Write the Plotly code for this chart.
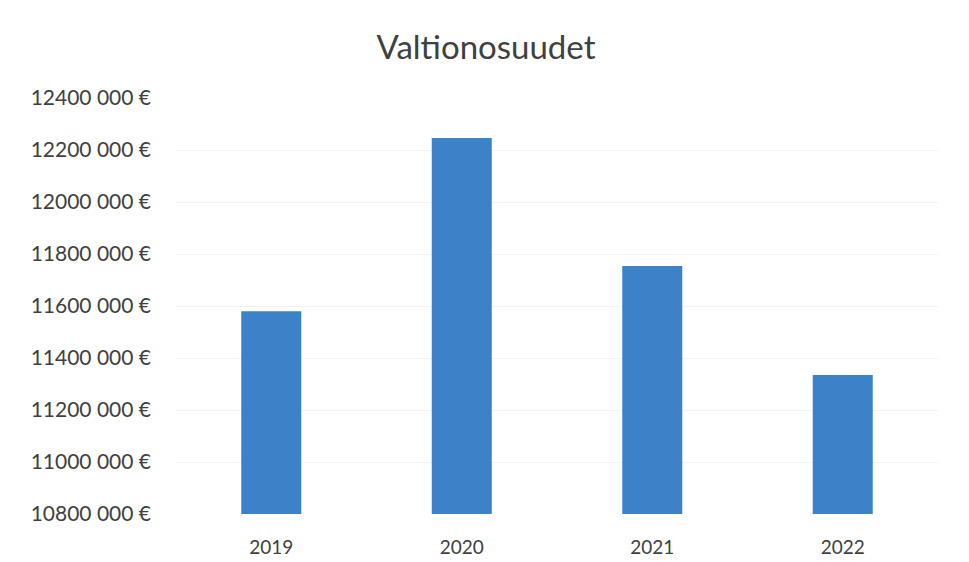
import plotly.graph_objects as go

years = ["2019", "2020", "2021", "2022"]
values = [11580000, 12246000, 11754000, 11335000]
tick_vals = [10800000, 11000000, 11200000, 11400000, 11600000, 11800000, 12000000, 12200000, 12400000]
tick_text = ["10800 000 €", "11000 000 €", "11200 000 €", "11400 000 €", "11600 000 €",
             "11800 000 €", "12000 000 €", "12200 000 €", "12400 000 €"]

fig = go.Figure(go.Bar(x=years, y=values, marker_color="#3b82c8", marker_line_width=0))

fig.update_layout(
    width=969, height=562,
    paper_bgcolor="white", plot_bgcolor="white",
    margin=dict(l=168, r=39, t=90, b=56, autoexpand=False),
    bargap=0.685,
    showlegend=False,
    title=dict(text="Valtionosuudet", x=478 / 969, xanchor="center", y=1 - 39 / 562, yanchor="middle",
               font=dict(family="Lato, Open Sans, sans-serif", size=33, color="#404040")),
    font=dict(family="Lato, Open Sans, sans-serif", color="#404040"),
)
fig.update_xaxes(showgrid=False, showline=False, ticks="", ticklabelstandoff=20,
                 tickfont=dict(size=19, color="#404040"))
fig.update_yaxes(range=[10800000, 12400000], tickvals=tick_vals, ticktext=tick_text,
                 showgrid=True, gridcolor="#f3f3f3", gridwidth=1, zeroline=False,
                 ticks="", ticklabelstandoff=24, tickfont=dict(size=21, color="#404040"))

fig.write_html("out.html")
